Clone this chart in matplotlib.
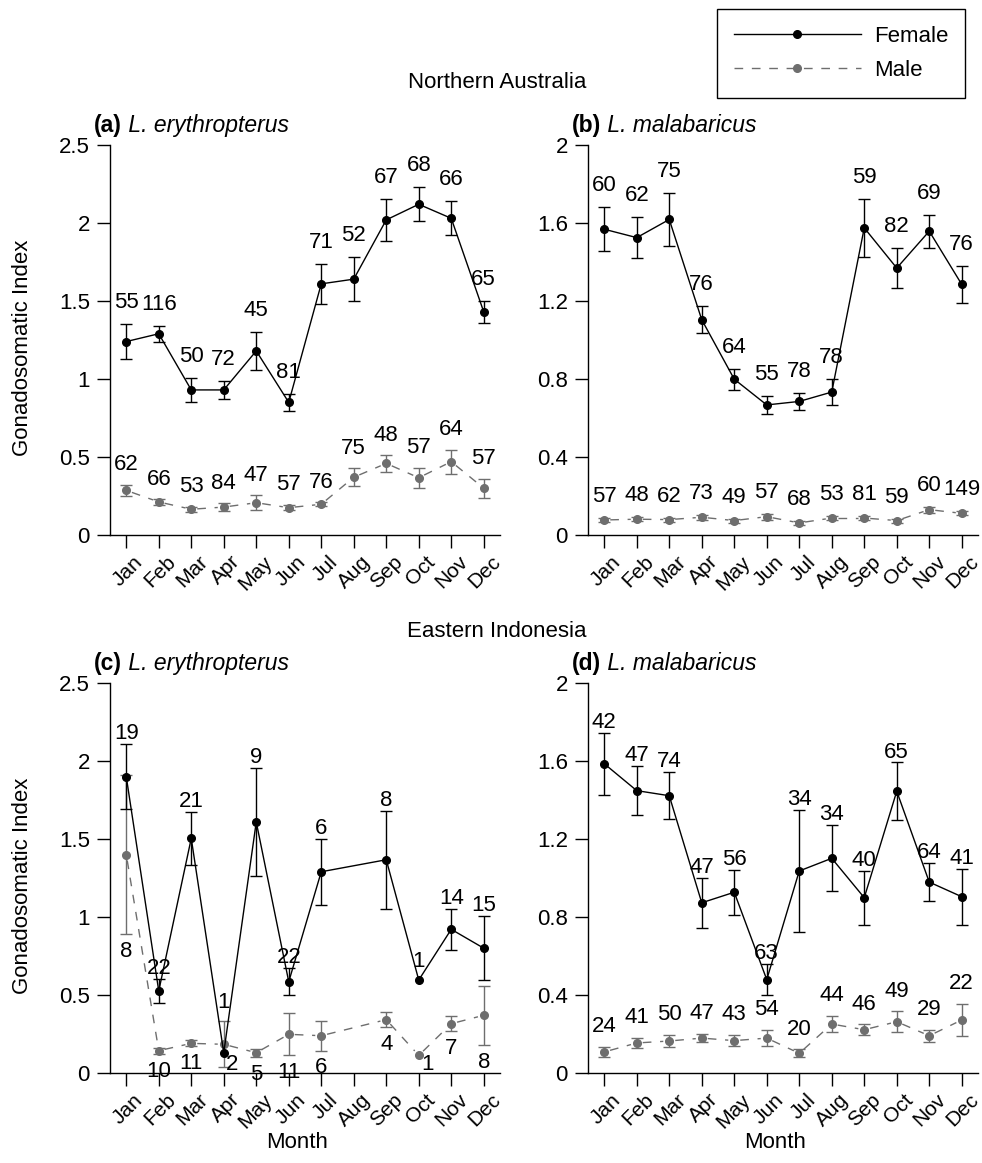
import numpy as np
import matplotlib
matplotlib.use('Agg')
import matplotlib.pyplot as plt
from matplotlib.lines import Line2D
from matplotlib.transforms import ScaledTranslation

plt.rcParams['font.family'] = ['Liberation Sans', 'DejaVu Sans']
plt.rcParams['font.size'] = 16

nan = np.nan
months = ['Jan', 'Feb', 'Mar', 'Apr', 'May', 'Jun', 'Jul', 'Aug', 'Sep', 'Oct', 'Nov', 'Dec']

# (a) Northern Australia, L. erythropterus
a_f_mean = [1.24, 1.29, 0.93, 0.93, 1.18, 0.85, 1.61, 1.64, 2.02, 2.12, 2.03, 1.43]
a_f_se = [0.11, 0.05, 0.075, 0.057, 0.12, 0.055, 0.13, 0.14, 0.135, 0.11, 0.11, 0.07]
a_f_n = [55, 116, 50, 72, 45, 81, 71, 52, 67, 68, 66, 65]
a_m_mean = [0.286, 0.212, 0.165, 0.179, 0.207, 0.175, 0.197, 0.37, 0.459, 0.367, 0.47, 0.30]
a_m_se = [0.034, 0.017, 0.015, 0.023, 0.048, 0.017, 0.014, 0.057, 0.053, 0.064, 0.077, 0.06]
a_m_n = [62, 66, 53, 84, 47, 57, 76, 75, 48, 57, 64, 57]

# (b) Northern Australia, L. malabaricus
b_f_mean = [1.568, 1.525, 1.618, 1.104, 0.799, 0.667, 0.685, 0.733, 1.575, 1.369, 1.558, 1.285]
b_f_se = [0.113, 0.106, 0.134, 0.068, 0.053, 0.045, 0.045, 0.068, 0.15, 0.104, 0.085, 0.095]
b_f_n = [60, 62, 75, 76, 64, 55, 78, 78, 59, 82, 69, 76]
b_m_mean = [0.077, 0.081, 0.079, 0.091, 0.074, 0.094, 0.062, 0.087, 0.087, 0.074, 0.13, 0.111]
b_m_se = [0.01, 0.01, 0.01, 0.012, 0.01, 0.015, 0.01, 0.01, 0.01, 0.01, 0.015, 0.01]
b_m_n = [57, 48, 62, 73, 49, 57, 68, 53, 81, 59, 60, 149]

# (c) Eastern Indonesia, L. erythropterus (no sample in Aug; n = 1 has no SE)
c_f_mean = [1.90, 0.526, 1.504, 0.13, 1.609, 0.585, 1.29, nan, 1.367, 0.596, 0.921, 0.80]
c_f_se = [0.21, 0.075, 0.168, nan, 0.346, 0.088, 0.21, nan, 0.315, nan, 0.13, 0.205]
c_f_n = [19, 22, 21, 1, 9, 22, 6, None, 8, 1, 14, 15]
c_m_mean = [1.40, 0.143, 0.19, 0.184, 0.13, 0.248, 0.239, nan, 0.342, 0.113, 0.316, 0.37]
c_m_se = [0.51, 0.02, 0.02, 0.148, 0.025, 0.134, 0.095, nan, 0.046, nan, 0.048, 0.19]
c_m_n = [8, 10, 11, 2, 5, 11, 6, None, 4, 1, 7, 8]
c_m_right = [3, 9]   # male counts written beside the point (Apr, Oct)

# (d) Eastern Indonesia, L. malabaricus
d_f_mean = [1.586, 1.448, 1.422, 0.873, 0.927, 0.479, 1.036, 1.101, 0.899, 1.445, 0.979, 0.904]
d_f_se = [0.16, 0.127, 0.12, 0.127, 0.115, 0.08, 0.315, 0.17, 0.138, 0.148, 0.097, 0.143]
d_f_n = [42, 47, 74, 47, 56, 63, 34, 34, 40, 65, 64, 41]
d_m_mean = [0.108, 0.154, 0.164, 0.179, 0.166, 0.179, 0.101, 0.251, 0.222, 0.263, 0.191, 0.272]
d_m_se = [0.026, 0.028, 0.032, 0.022, 0.029, 0.042, 0.02, 0.041, 0.028, 0.054, 0.032, 0.084]
d_m_n = [24, 41, 50, 47, 43, 54, 20, 44, 46, 49, 29, 22]

FEMALE = 'black'
MALE = '#6e6e6e'
DASH = (6.25, 6.25)

fig = plt.figure(figsize=(9.82, 11.63), dpi=100)
W, H = 982, 1163


def add_axes(left_px, bottom_px):
    return fig.add_axes([left_px / W, (H - bottom_px) / H, 390 / W, 390 / H])


def gapped_line(ax, x, y, gap_px):
    # R type="b": segments between points, with a gap round each point
    pts = ax.transData.transform(np.column_stack([x, y]))
    inv = ax.transData.inverted()
    for p0, p1 in zip(pts[:-1], pts[1:]):
        d = p1 - p0
        length = np.hypot(*d)
        if length <= 2 * gap_px:
            continue
        u = d / length
        q0 = inv.transform(p0 + u * gap_px)
        q1 = inv.transform(p1 - u * gap_px)
        ax.plot([q0[0], q1[0]], [q0[1], q1[1]], color=MALE, lw=1, dashes=DASH)


def draw_panel(ax, f_mean, f_se, f_n, m_mean, m_se, m_n, ymax, yticks, ylabels,
               f_off, m_off, m_below=False, m_right=()):
    x = np.arange(1, 13)
    f_mean = np.array(f_mean, dtype=float)
    f_se = np.array(f_se, dtype=float)
    m_mean = np.array(m_mean, dtype=float)
    m_se = np.array(m_se, dtype=float)

    ax.set_xlim(0.5, 12.5)
    ax.set_ylim(0, ymax)
    for s in ['top', 'right']:
        ax.spines[s].set_visible(False)
    ax.spines['left'].set_linewidth(1)
    ax.spines['bottom'].set_linewidth(1)
    ax.set_yticks(yticks)
    ax.set_yticklabels(ylabels)
    ax.set_xticks(x)
    ax.set_xticklabels(months, rotation=45, ha='right', va='top', rotation_mode='anchor',
                       fontsize=15)
    ax.tick_params(axis='both', direction='out', length=9.4, width=1)
    ax.tick_params(axis='y', pad=5, labelsize=16)
    ax.tick_params(axis='x', pad=3)
    shift = ScaledTranslation(0.07, 0, fig.dpi_scale_trans)
    for lab in ax.get_xticklabels():
        lab.set_transform(lab.get_transform() + shift)

    # male
    ok = ~np.isnan(m_mean)
    ax.errorbar(x, m_mean, yerr=m_se, fmt='none', ecolor=MALE, elinewidth=1,
                capsize=4, capthick=1, zorder=2)
    gapped_line(ax, x[ok], m_mean[ok], 6)
    ax.plot(x[ok], m_mean[ok], 'o', color=MALE, ms=5.5, zorder=3)

    # female
    ok = ~np.isnan(f_mean)
    ax.errorbar(x, f_mean, yerr=f_se, fmt='none', ecolor=FEMALE, elinewidth=1,
                capsize=4, capthick=1, zorder=4)
    ax.plot(x[ok], f_mean[ok], '-o', color=FEMALE, lw=1, ms=5.5, zorder=5)

    # sample sizes
    f_top = np.fmax(f_mean + np.nan_to_num(f_se), m_mean + np.nan_to_num(m_se))
    m_top = m_mean + np.nan_to_num(m_se)
    m_bot = m_mean - np.nan_to_num(m_se)
    for i in range(12):
        if f_n[i] is not None:
            extra = 6 if np.isnan(f_se[i]) else 0
            ax.annotate(str(f_n[i]), (x[i], f_top[i]), xytext=(0, f_off + extra),
                        textcoords='offset points', ha='center', va='baseline',
                        fontsize=16, annotation_clip=False)
        if m_n[i] is not None:
            if i in m_right:
                ax.annotate(str(m_n[i]), (x[i], 0), xytext=(1.5, 2.5),
                            textcoords='offset points', ha='left', va='baseline',
                            fontsize=16, annotation_clip=False)
            elif m_below:
                ax.annotate(str(m_n[i]), (x[i], m_bot[i]), xytext=(0, -m_off),
                            textcoords='offset points', ha='center', va='top',
                            fontsize=16, annotation_clip=False)
            else:
                ax.annotate(str(m_n[i]), (x[i], m_top[i]), xytext=(0, m_off),
                            textcoords='offset points', ha='center', va='baseline',
                            fontsize=16, annotation_clip=False)


def panel_title(ax, letter, species):
    t = ax.text(-0.041, 1.034, '(%s)' % letter, transform=ax.transAxes,
                fontsize=16.5, fontweight='bold', ha='left', va='baseline')
    ax.annotate(' ' + species, xy=(1, 0), xycoords=t, fontsize=16.5,
                fontstyle='italic', ha='left', va='bottom')


ax_a = add_axes(110, 535)
ax_b = add_axes(588, 535)
ax_c = add_axes(110, 1073)
ax_d = add_axes(588, 1073)

t25 = [0, 0.5, 1, 1.5, 2, 2.5]
l25 = ['0', '0.5', '1', '1.5', '2', '2.5']
t20 = [0, 0.4, 0.8, 1.2, 1.6, 2]
l20 = ['0', '0.4', '0.8', '1.2', '1.6', '2']

draw_panel(ax_a, a_f_mean, a_f_se, a_f_n, a_m_mean, a_m_se, a_m_n, 2.5, t25, l25, 11.5, 10.5)
draw_panel(ax_b, b_f_mean, b_f_se, b_f_n, b_m_mean, b_m_se, b_m_n, 2.0, t20, l20, 11.5, 11.5)
draw_panel(ax_c, c_f_mean, c_f_se, c_f_n, c_m_mean, c_m_se, c_m_n, 2.5, t25, l25, 3.5, 5,
           m_below=True, m_right=c_m_right)
draw_panel(ax_d, d_f_mean, d_f_se, d_f_n, d_m_mean, d_m_se, d_m_n, 2.0, t20, l20, 3.5, 10.5)

panel_title(ax_a, 'a', 'L. erythropterus')
panel_title(ax_b, 'b', 'L. malabaricus')
panel_title(ax_c, 'c', 'L. erythropterus')
panel_title(ax_d, 'd', 'L. malabaricus')

for ax in (ax_a, ax_c):
    ax.set_ylabel('Gonadosomatic Index', fontsize=16)
    ax.yaxis.set_label_coords(-0.197, 0.48)
for ax in (ax_c, ax_d):
    ax.set_xlabel('Month', fontsize=16)
    ax.xaxis.set_label_coords(0.48, -0.15)

fig.text(497 / W, 1 - 88 / H, 'Northern Australia', ha='center', va='baseline', fontsize=16)
fig.text(497 / W, 1 - 637 / H, 'Eastern Indonesia', ha='center', va='baseline', fontsize=16)

handles = [
    Line2D([], [], color=FEMALE, lw=1, marker='o', ms=5.5),
    Line2D([], [], color=MALE, lw=1, dashes=DASH, marker='o', ms=5.5),
]
leg = fig.legend(handles, ['Female', 'Male'], loc='upper right',
                 bbox_to_anchor=(965 / W, 1 - 9 / H), borderaxespad=0,
                 fontsize=16, handlelength=5.7, handletextpad=0.6, borderpad=0.75,
                 labelspacing=0.6, numpoints=1, fancybox=False, framealpha=1)
leg.get_frame().set_edgecolor('black')
leg.get_frame().set_linewidth(1)

fig.savefig('out.png', dpi=100)
